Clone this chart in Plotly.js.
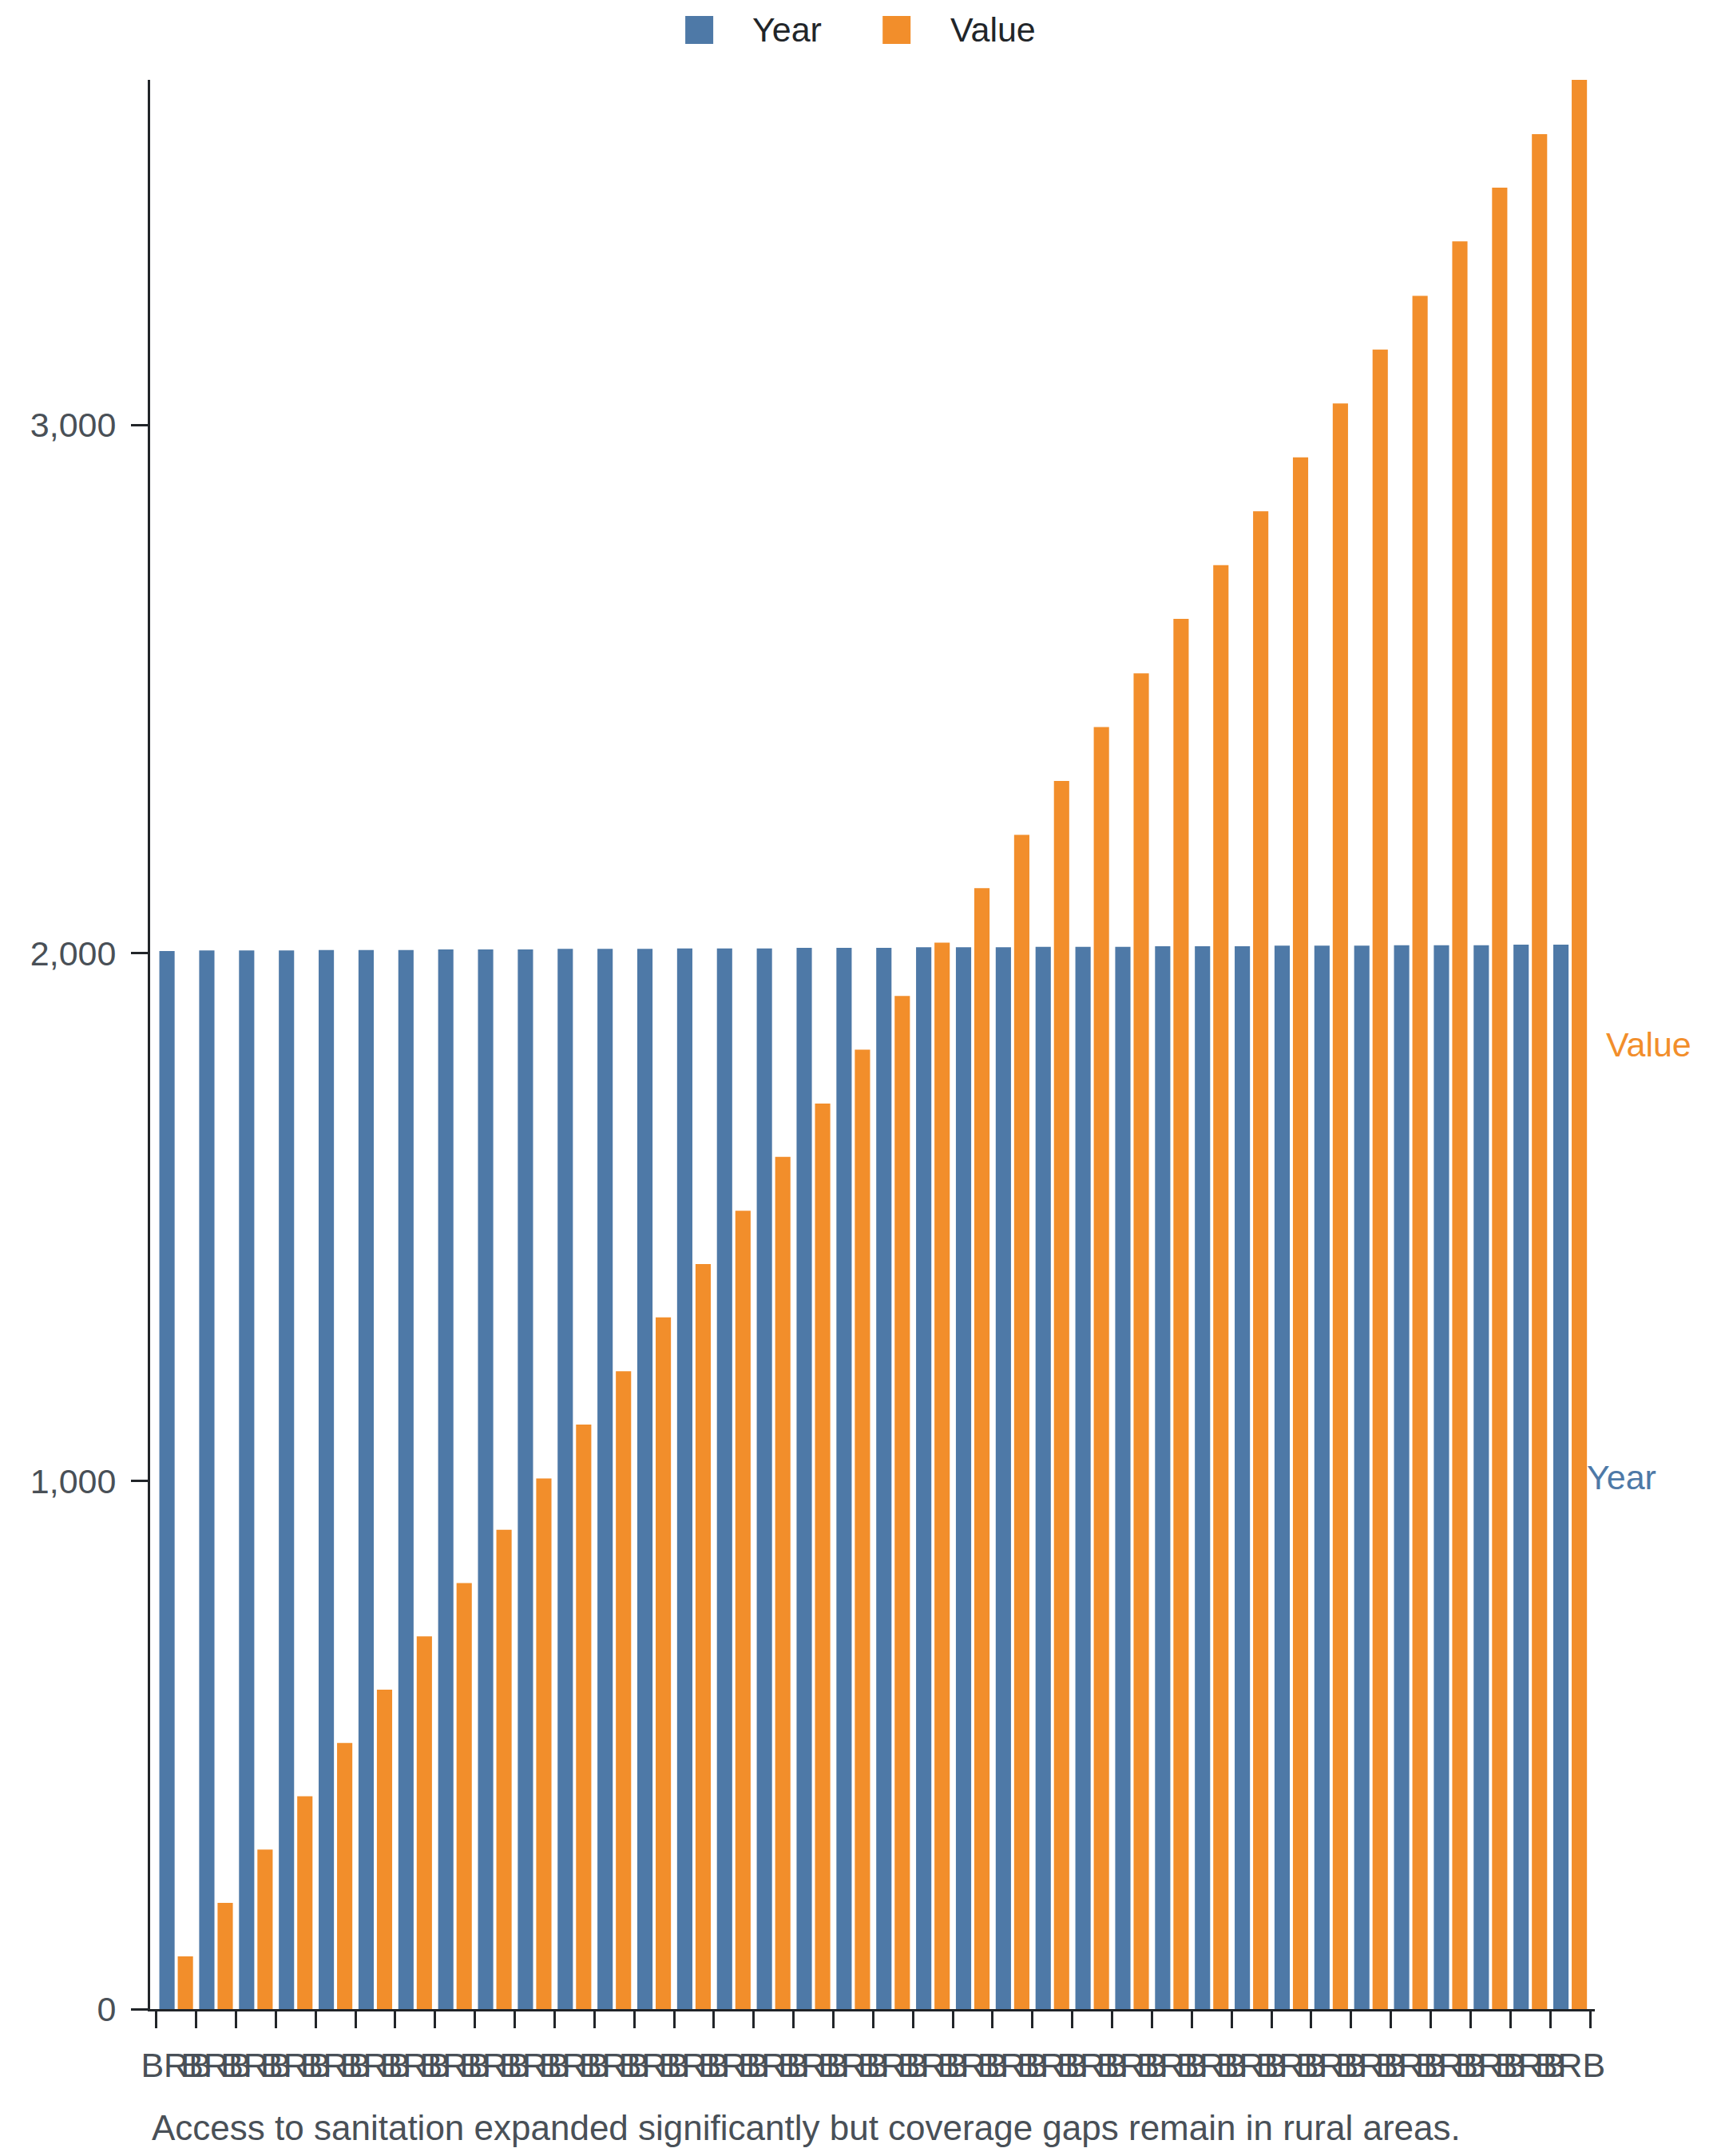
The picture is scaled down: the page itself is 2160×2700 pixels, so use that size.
<!DOCTYPE html>
<html>
<head>
<meta charset="utf-8">
<script src="https://cdn.plot.ly/plotly-3.0.1.min.js"></script>
<style>
  body { margin: 0; background: #ffffff; }
  #myDiv { width: 2160px; height: 2700px; }
</style>
</head>
<body>
<div id="myDiv"></div>
<script>
var slots = [0, 1, 2, 3, 4, 5, 6, 7, 8, 9, 10, 11, 12, 13, 14, 15, 16, 17,
  18, 19, 20, 21, 22, 23, 24, 25, 26, 27, 28, 29, 30, 31, 32, 33, 34, 35];
var countries = ["BRB", "BRB", "BRB", "BRB", "BRB", "BRB", "BRB", "BRB", "BRB",
  "BRB", "BRB", "BRB", "BRB", "BRB", "BRB", "BRB", "BRB", "BRB",
  "BRB", "BRB", "BRB", "BRB", "BRB", "BRB", "BRB", "BRB", "BRB",
  "BRB", "BRB", "BRB", "BRB", "BRB", "BRB", "BRB", "BRB", "BRB"];
var years = [2004, 2005, 2005, 2005, 2006, 2006, 2006, 2007, 2007, 2007,
  2008, 2008, 2008, 2009, 2009, 2009, 2010, 2010, 2010, 2011, 2011, 2011,
  2012, 2012, 2012, 2013, 2013, 2013, 2014, 2014, 2014, 2015, 2015, 2015,
  2016, 2016];
var values = [100, 201, 302, 403, 504, 605, 706, 807, 908, 1005,
  1107, 1208, 1310, 1411, 1512, 1614, 1715, 1817, 1919, 2020,
  2123, 2224, 2326, 2428, 2530, 2633, 2735, 2837, 2939, 3041,
  3143, 3245, 3348, 3450, 3551, 3654];
var yTicks = [0, 1000, 2000, 3000];
var caption = "Access to sanitation expanded significantly but coverage gaps remain in rural areas.";

var blue = "#4e79a7";
var orange = "#f28e2b";
var ink = "#212529";
var grey = "#495057";
var fontFam = "Liberation Sans, Arial, sans-serif";

var data = [
  {
    type: "bar",
    name: "Year",
    x: slots,
    y: years,
    marker: { color: blue },
    showlegend: false
  },
  {
    type: "bar",
    name: "Value",
    x: slots,
    y: values,
    marker: { color: orange },
    showlegend: false
  }
];

var last = slots.length - 1;
var legendY = 1.0259;

var layout = {
  width: 2160,
  height: 2700,
  margin: { l: 188, r: 163, t: 100, b: 184, pad: 0 },
  paper_bgcolor: "#ffffff",
  plot_bgcolor: "#ffffff",
  font: { family: fontFam, size: 43, color: grey },
  barmode: "group",
  bargap: 0.076,
  bargroupgap: 0.17,
  xaxis: {
    type: "category",
    range: [-0.654, 35.62],
    tickmode: "array",
    tickvals: slots,
    ticktext: countries,
    tickson: "boundaries",
    ticks: "outside",
    ticklen: 21,
    tickwidth: 3,
    tickcolor: ink,
    ticklabelstandoff: 30,
    showline: true,
    linecolor: ink,
    linewidth: 3,
    showgrid: false,
    zeroline: false,
    tickangle: 0,
    tickfont: { size: 43, color: grey }
  },
  yaxis: {
    range: [0, Math.max.apply(null, values)],
    tickmode: "array",
    tickvals: yTicks,
    tickformat: ",d",
    ticks: "outside",
    ticklen: 21,
    tickwidth: 3,
    tickcolor: ink,
    ticklabelstandoff: 10,
    showline: true,
    linecolor: ink,
    linewidth: 3,
    showgrid: false,
    zeroline: false,
    tickfont: { size: 43, color: grey }
  },
  shapes: [
    // legend swatches
    { type: "rect", xref: "paper", yref: "paper", xsizemode: "pixel", ysizemode: "pixel",
      xanchor: 0.3801, yanchor: legendY, x0: -17.5, x1: 17.5, y0: -17.5, y1: 17.5,
      fillcolor: blue, line: { width: 0 } },
    { type: "rect", xref: "paper", yref: "paper", xsizemode: "pixel", ysizemode: "pixel",
      xanchor: 0.5167, yanchor: legendY, x0: -17.5, x1: 17.5, y0: -17.5, y1: 17.5,
      fillcolor: orange, line: { width: 0 } }
  ],
  annotations: [
    { xref: "paper", yref: "paper", x: 0.4157, y: legendY, xanchor: "left", yanchor: "middle",
      text: "Year", showarrow: false, font: { size: 43, color: ink } },
    { xref: "paper", yref: "paper", x: 0.5529, y: legendY, xanchor: "left", yanchor: "middle",
      text: "Value", showarrow: false, font: { size: 43, color: ink } },
    // series labels at the end of the last bars
    { x: slots[last], y: years[last] / 2, xanchor: "left", yanchor: "middle", xshift: 19,
      text: "Year", showarrow: false, font: { size: 43, color: blue } },
    { x: slots[last], y: values[last] / 2, xanchor: "left", yanchor: "middle", xshift: 43,
      text: "Value", showarrow: false, font: { size: 43, color: orange } },
    { xref: "paper", yref: "paper", x: 0, y: -0.0616, xanchor: "left", yanchor: "middle",
      text: caption, showarrow: false, font: { size: 44, color: grey } }
  ]
};

Plotly.newPlot("myDiv", data, layout, { staticPlot: true });
</script>
</body>
</html>
